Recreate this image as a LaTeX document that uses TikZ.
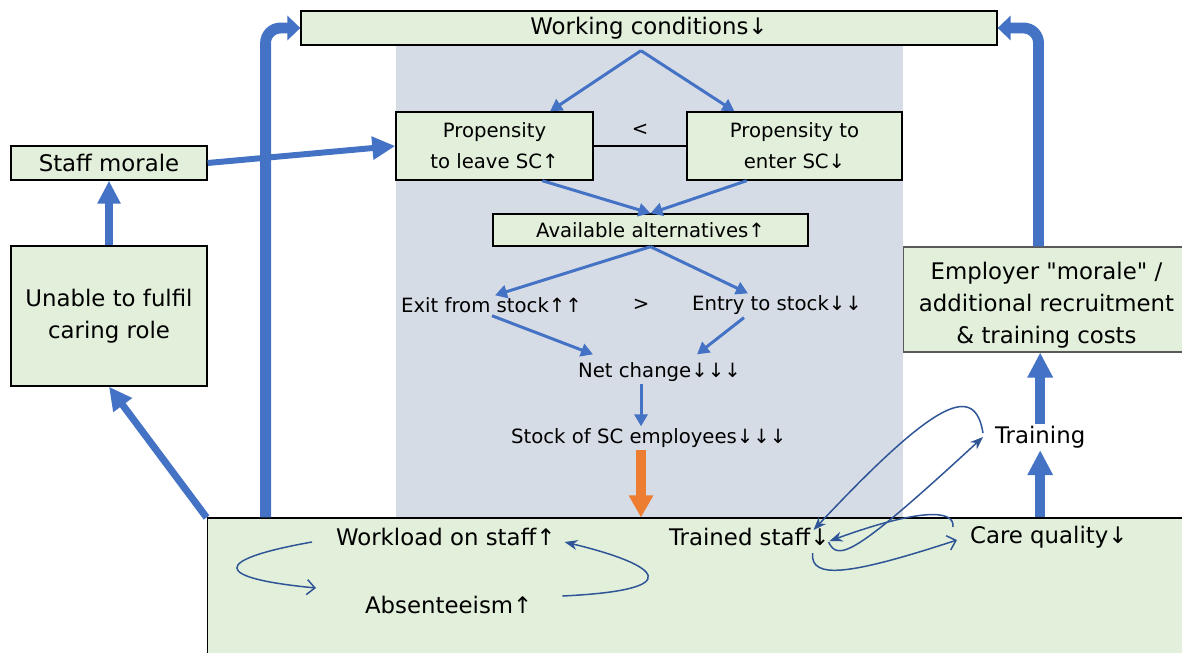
\documentclass[tikz,border=0pt]{standalone}
\usepackage{fontspec}
\setmainfont{DejaVu Sans}
\usetikzlibrary{arrows.meta}

\definecolor{boxgreen}{HTML}{E2EFDA}
\definecolor{panelgrey}{HTML}{D6DCE5}
\definecolor{flowblue}{HTML}{4472C4}
\definecolor{loopblue}{HTML}{2F5597}
\definecolor{stockorange}{HTML}{ED7D31}

\newcommand{\bigfont}{\fontsize{13}{18.2}\selectfont}
\newcommand{\smallfont}{\fontsize{11.2}{16.5}\selectfont}

\tikzset{
  box/.style={draw=black, line width=0.8pt, fill=boxgreen, align=center, inner sep=0pt},
  lbl/.style={inner sep=1pt, anchor=west},
  flow/.style={draw=flowblue, line width=1.7pt, -{Triangle[length=0.24cm,width=0.26cm]}},
  fatflow/.style={draw=flowblue, line width=4pt, -{Triangle[length=0.46cm,width=0.44cm]}},
  bendflow/.style={draw=flowblue, line width=6.2pt, rounded corners=0.3cm, -{Triangle[length=0.26cm,width=0.48cm]}},
  upflow/.style={draw=flowblue, line width=5.8pt, -{Triangle[length=0.5cm,width=0.48cm]}},
  loopopen/.style={draw=loopblue, line width=0.85pt, -{Straight Barb[length=0.16cm,width=0.3cm]}},
  loopfill/.style={draw=loopblue, line width=0.85pt, -{Stealth[length=0.26cm,width=0.2cm]}},
}

\begin{document}
\begin{tikzpicture}[x=0.02cm, y=-0.02cm]

\clip (0,0) rectangle (1182,652);

% grey panel behind the flows
\fill[panelgrey] (396,45) rectangle (903,518);

% boxes
\node[box, font=\bigfont, minimum width=13.92cm, minimum height=0.68cm] (work) at (649,28) {Working conditions↓};
\node[box, font=\smallfont, minimum width=3.94cm, minimum height=1.36cm] (leave) at (494.5,146) {Propensity\\[1pt]to leave SC↑};
\node[box, font=\smallfont, minimum width=4.3cm, minimum height=1.36cm] (enter) at (794.5,146) {Propensity to\\[1pt]enter SC↓};
\node[box, font=\smallfont, minimum width=6.3cm, minimum height=0.64cm] (avail) at (650.5,230) {Available alternatives↑};
\node[box, font=\bigfont, minimum width=3.92cm, minimum height=0.68cm] (morale) at (109,163) {Staff morale};
\node[box, font=\bigfont, minimum width=3.92cm, minimum height=2.8cm] (unable) at (109,316) {Unable to fulfil\\caring role};
\node[box, draw=black!65, line width=0.6pt, font=\bigfont, minimum width=5.74cm, minimum height=2.1cm] (emp) at (1046.5,299.5) {\\[-2pt]Employer \textquotedbl morale\textquotedbl\ /\\additional recruitment\\\& training costs};
\node[box, line width=0.6pt, minimum width=19.66cm, minimum height=2.84cm] (base) at (698.5,589) {};

% texts in the panel
\node[lbl, font=\smallfont] (exit) at (399,305) {Exit from stock↑↑};
\node[font=\smallfont] (gt) at (641,305) {>};
\node[lbl, font=\smallfont] (entry) at (690,305) {Entry to stock↓↓};
\node[lbl, font=\smallfont] (net) at (576,372) {Net change↓↓↓};
\node[lbl, font=\smallfont] (stock) at (509,438) {Stock of SC employees↓↓↓};

% texts in the bottom box
\node[lbl, font=\bigfont] (workload) at (334,537) {Workload on staff↑};
\node[lbl, font=\bigfont] (absent) at (363,605) {Absenteeism↑};
\node[lbl, font=\bigfont] (trained) at (667,537) {Trained staff↓};
\node[lbl, font=\bigfont] (care) at (968,537) {Care quality↓};
\node[lbl, font=\bigfont] (training) at (993,437) {Training};

% leave vs enter
\draw[line width=0.8pt] (leave.east) -- node[above=2pt, font=\smallfont] (lt) {<} (enter.west);

% main chain
\coordinate (split) at ([yshift=-0.1cm]work.south -| gt);
\draw[flow] (split) -- (leave.32);
\draw[flow] (split) -- (enter.150);
\draw[flow] (leave.-36) -- (avail.north);
\draw[flow] (enter.216) -- (avail.north);
\draw[flow] (avail.south) -- ([shift={(96,0)}]exit.north west);
\draw[flow] (avail.south) -- ([shift={(58,0)}]entry.north west);
\draw[flow] ([shift={(93,1)}]exit.south west) -- ([shift={(17,-6)}]net.north west);
\draw[flow] ([shift={(54,1)}]entry.south west) -- ([shift={(121,-6)}]net.north west);
\draw[flow] (net.south -| gt) -- (stock.north -| gt);
\draw[draw=stockorange, line width=5.6pt, -{Triangle[length=0.44cm,width=0.46cm]}] (stock.south -| gt) -- (base.north -| gt);

% thick feedback arrows
\draw[fatflow, line width=3.4pt] (morale.east) -- (leave.west);
\draw[fatflow] (unable.north) -- (morale.south);
\draw[fatflow] (base.north west) -- (unable.south);
\draw[bendflow] ([shift={(59,0)}]base.north west) |- (work.west);
\draw[bendflow] ([shift={(-8,0)}]emp.north) |- (work.east);
\draw[upflow] (base.north -| training) -- (training.south);
\draw[upflow] (training.north) -- (emp.south -| training);

% loops inside the bottom box
\draw[loopopen] ([shift={(-22,5)}]workload.west) .. controls (211,560) and (212,578) .. ([shift={(-47,-17)}]absent.west);
\draw[loopfill] ([shift={(28,-9)}]absent.east) .. controls (690,590) and (660,565) .. ([shift={(7,5)}]workload.east);
\draw[loopfill] ([shift={(-10,-4)}]training.west) .. controls (975,385) and (940,395) .. ([shift={(-18,-7)}]trained.east);
\draw[loopfill] ([shift={(-3,5)}]trained.east) .. controls (838,562) and (855,555) .. ([shift={(-10,0)}]training.west);
\draw[loopfill] ([shift={(-15,-10)}]care.west) .. controls (955,508) and (915,510) .. ([shift={(-2,4)}]trained.east);
\draw[loopopen] ([shift={(-19,16)}]trained.east) .. controls (810,580) and (850,575) .. ([shift={(-11,3)}]care.west);

\end{tikzpicture}
\end{document}
